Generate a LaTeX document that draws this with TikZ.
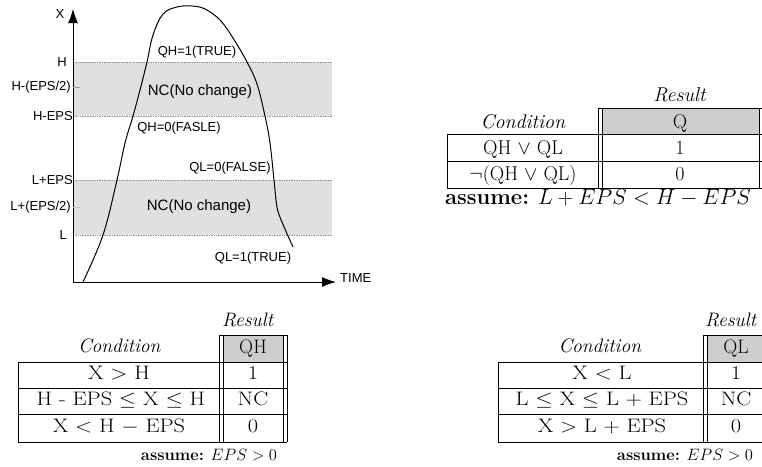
\RequirePackage{fix-cm}
\documentclass[tikz,border=0pt]{standalone}
\usepackage{amsmath,amssymb}
\usepackage{graphicx}
\usepackage{fontspec}
\newfontfamily\graphfont{Liberation Sans}
\usepackage{tikz}
\usetikzlibrary{arrows.meta}
\usepackage{xcolor}
\definecolor{BandCol}{RGB}{224,224,224}
\definecolor{HeadCol}{RGB}{206,206,206}
\definecolor{DotCol}{RGB}{150,150,150}
\newcommand{\CellWide}[1]{\scalebox{1.15}[1]{#1}}
\tikzstyle{AxisGraph}=[black,line width=1pt,-{Latex[length=14pt,width=10pt]}]
\tikzstyle{CurveGraph}=[black,line width=1pt,line join=round]
\tikzstyle{BandGraph}=[fill=BandCol,draw=none]
\tikzstyle{BandEdge}=[DotCol,densely dotted,line width=0.7pt]
\tikzstyle{GraphLabel}=[inner sep=0pt,font=\graphfont\fontsize{13}{15}\selectfont]
\tikzstyle{ZoneLabel}=[inner sep=0pt,font=\graphfont\fontsize{15}{17}\selectfont]
\tikzstyle{CellText}=[inner sep=0pt,anchor=base,font=\fontsize{20}{24}\selectfont]
\tikzstyle{RowText}=[inner sep=0pt,anchor=base,font=\fontsize{19.5}{23}\selectfont]
\tikzstyle{NoteText}=[inner sep=0pt,anchor=base,font=\fontsize{16.5}{20}\selectfont]
\tikzstyle{BigNote}=[inner sep=0pt,anchor=base,font=\fontsize{22}{26}\selectfont]
\tikzstyle{TableLine}=[black,line width=1pt]
\begin{document}
\begin{tikzpicture}[x=1pt,y=-1pt]
        \useasboundingbox(0,0)rectangle(762,466);
        \fill[BandGraph](73,62)rectangle(332,116);
        \fill[BandGraph](73,180)rectangle(332,235);
        \foreach \y in {62,116,180,235}{\draw[BandEdge](73,\y)--(332,\y);}
        \coordinate(o)at(73,282);
        \coordinate(xend)at(336,282);
        \coordinate(yend)at(73,9);
        \draw[AxisGraph](o)--(yend);
        \draw[AxisGraph](o)--(xend);
        \draw[gray!80,line width=1pt](73,87)--(80,87);
        \draw[gray!45,line width=1pt](73,207)--(80,207);
        \node[GraphLabel](lx)at(60,14){X};
        \node[GraphLabel,anchor=west](lt)at(340,278){TIME};
        \node[GraphLabel,anchor=east](lh)at(67,62){H};
        \node[GraphLabel,anchor=east](lhm)at(71,87){H-(EPS/2)};
        \node[GraphLabel,anchor=east](lhe)at(73,116){H-EPS};
        \node[GraphLabel,anchor=east](lle)at(73,180){L+EPS};
        \node[GraphLabel,anchor=east](llm)at(71,207){L+(EPS/2)};
        \node[GraphLabel,anchor=east](ll)at(67,235){L};
        \draw[CurveGraph]plot[smooth,tension=0.6]coordinates{(83,282)(103,235)(117,180)(125,143)(133,116)(140,90)(147,62)(153,35)(163,14)(177,7)(192,6)(205,9)(220,20)(233,38)(247,62)(257,84)(265,116)(270,143)(274,180)(277,207)(282,222)(293,247)};
        \node[GraphLabel](qhtrue)at(197,52){QH=1(TRUE)};
        \node[ZoneLabel](nchigh)at(200,92){NC(No change)};
        \node[GraphLabel](qhfalse)at(179,128){QH=0(FASLE)};
        \node[GraphLabel](qlfalse)at(230,168){QL=0(FALSE)};
        \node[ZoneLabel](nclow)at(199,207){NC(No change)};
        \node[GraphLabel](qltrue)at(253,258){QL=1(TRUE)};
        \fill[HeadCol](602,108)rectangle(759,134);
        \draw[TableLine](598,108)--(762,108);
        \foreach \y in {134,161,188}{\draw[TableLine](447,\y)--(762,\y);}
        \draw[TableLine](447,134)--(447,188);
        \foreach \x in {598,602,759}{\draw[TableLine](\x,108)--(\x,188);}
        \node[CellText](qres)at(680,101.5){\textit{Result}};
        \node[CellText](qcond)at(523,128){\textit{Condition}};
        \node[CellText](qhead)at(680,128){Q};
        \node[CellText](qcone)at(523,154){QH $\vee$ QL};
        \node[CellText](qrone)at(680,154){1};
        \node[CellText](qctwo)at(523,180.5){$\neg$(QH $\vee$ QL)};
        \node[CellText](qrtwo)at(680,180.5){0};
        \node[BigNote](qnote)at(598,204){\textbf{assume:} $L+EPS<H-EPS$};
        \fill[HeadCol](223,335)rectangle(283,362);
        \draw[TableLine](219,335)--(287,335);
        \foreach \y in {362,388,414,442}{\draw[TableLine](18,\y)--(287,\y);}
        \draw[TableLine](18,362)--(18,442);
        \foreach \x in {219,223,283,287}{\draw[TableLine](\x,335)--(\x,442);}
        \node[RowText](hres)at(248,326){\textit{Result}};
        \node[RowText](hcond)at(119.5,352){\textit{Condition}};
        \node[RowText](hhead)at(253,353.5){QH};
        \node[RowText](hcone)at(119,379.5){\CellWide{X $>$ H}};
        \node[RowText](hrone)at(253,379.5){\CellWide{1}};
        \node[RowText](hctwo)at(121,405.5){\CellWide{H - EPS $\leq$ X $\leq$ H}};
        \node[RowText](hrtwo)at(253,405.5){\CellWide{NC}};
        \node[RowText](hcthree)at(119,432.5){\CellWide{X $<$ H $-$ EPS}};
        \node[RowText](hrthree)at(253,432.5){\CellWide{0}};
        \node[NoteText](hnote)at(209,460){\textbf{assume:} $EPS>0$};
        \fill[HeadCol](707,335)rectangle(762,362);
        \draw[TableLine](703,335)--(762,335);
        \foreach \y in {362,388,414,442}{\draw[TableLine](498,\y)--(762,\y);}
        \draw[TableLine](498,362)--(498,442);
        \foreach \x in {703,707}{\draw[TableLine](\x,335)--(\x,442);}
        \node[RowText](lres)at(731,326){\textit{Result}};
        \node[RowText](lcond)at(600,352){\textit{Condition}};
        \node[RowText](lhead)at(736,353.5){QL};
        \node[RowText](lcone)at(602,379.5){\CellWide{X $<$ L}};
        \node[RowText](lrone)at(736,379.5){\CellWide{1}};
        \node[RowText](lctwo)at(602,405.5){\CellWide{L $\leq$ X $\leq$ L $+$ EPS}};
        \node[RowText](lrtwo)at(736,405.5){\CellWide{NC}};
        \node[RowText](lcthree)at(602,432.5){\CellWide{X $>$ L $+$ EPS}};
        \node[RowText](lrthree)at(736,432.5){\CellWide{0}};
        \node[NoteText](lnote)at(685,460){\textbf{assume:} $EPS>0$};
    \end{tikzpicture}
\end{document}
